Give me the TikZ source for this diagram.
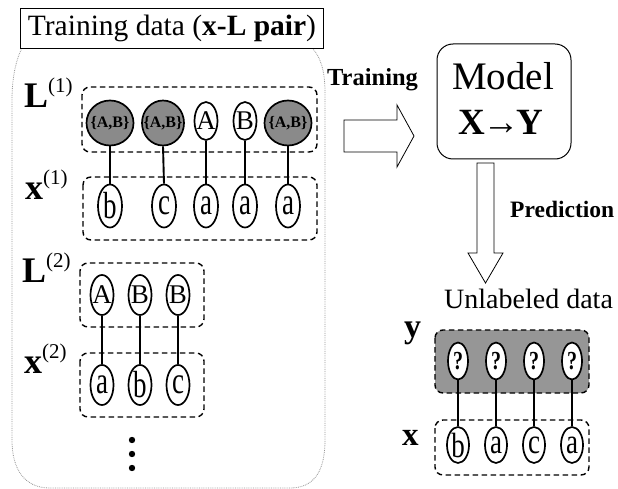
\documentclass[tikz,border=0pt]{standalone}
\usepackage{fontspec}
\usepackage{graphicx}
\setmainfont{Liberation Serif}
\usetikzlibrary{shapes.geometric}
\definecolor{cellgray}{RGB}{138,138,138}
\definecolor{boxgray}{RGB}{150,150,150}
\definecolor{framegray}{RGB}{150,150,150}
\newcommand{\zw}[1]{\makebox[0pt][c]{#1}}
\newcommand{\stretchtxt}[1]{\makebox[0pt][c]{\scalebox{1}[1.4]{#1}}}
\newcommand{\suplab}[2]{{\bfseries\fontsize{36}{36}\selectfont #1}\raisebox{15pt}{\fontsize{21}{21}\selectfont(#2)}}
\begin{document}
\begin{tikzpicture}[x=1pt,y=-1pt,
  ell/.style={ellipse,draw,line width=1.7pt,fill=white,inner sep=0pt},
  letter/.style={ell,minimum width=23pt,minimum height=40pt,font=\fontsize{27}{27}\selectfont},
  qmark/.style={ell,minimum width=20pt,minimum height=37pt,font=\bfseries\fontsize{20}{20}\selectfont},
  setnode/.style={ell,fill=cellgray,minimum height=45pt,font=\bfseries\fontsize{16}{16}\selectfont},
  dashbox/.style={draw,line width=1.4pt,rounded corners=8pt,dash pattern=on 5.5pt off 3.5pt},
  link/.style={line width=1.9pt},
  hollow/.style={draw,line width=0.8pt,fill=white},
  lab/.style={anchor=base west,inner sep=0pt}]
\useasboundingbox (0,0) rectangle (618,489);
% big frame
\draw[framegray,densely dotted,line width=0.8pt]
  (22,48) .. controls (15,62) and (12,80) .. (12,100) -- (12,440)
  .. controls (12,470) and (25,488) .. (50,488) -- (290,488)
  .. controls (315,488) and (325,470) .. (325,440) -- (325,92)
  .. controls (325,70) and (320,56) .. (312,48);
% title
\node[draw,line width=0.9pt,fill=white,minimum width=303pt,minimum height=40pt,inner sep=0pt,
  font=\fontsize{29.5}{29.5}\selectfont] (title) at (172,28) {Training data (\textbf{x-L pair})};
% dashed boxes
\draw[dashbox] (82,87) rectangle (317,152);
\draw[dashbox] (83,177) rectangle (317,240);
\draw[dashbox] (80,263) rectangle (204,327);
\draw[dashbox] (80,353) rectangle (204,417);
\draw[dashbox,fill=boxgray] (435,330) rectangle (589,393);
\draw[dashbox] (435,420) rectangle (589,475);
% labels
\node[lab] (lL1) at (24,108) {\suplab{L}{1}};
\node[lab] (lx1) at (25,200) {\suplab{x}{1}};
\node[lab] (lL2) at (22,282) {\suplab{L}{2}};
\node[lab] (lx2) at (24,373) {\suplab{x}{2}};
\node[lab,font=\bfseries\fontsize{34}{34}\selectfont] (ly) at (404,337) {y};
\node[lab,font=\bfseries\fontsize{33}{33}\selectfont] (lx) at (402,445) {x};
% row L1
\node[setnode,minimum width=47pt] (p1) at (110,123) {\zw{\{A,B\}}};
\node[setnode,minimum width=42pt] (p2) at (163,123) {\zw{\{A,B\}}};
\node[letter,minimum height=38pt] (p3) at (206,121) {\zw{A}};
\node[letter,minimum height=38pt] (p4) at (245,121) {\zw{B}};
\node[setnode,minimum width=47pt] (p5) at (288,123) {\zw{\{A,B\}}};
% row x1
\node[letter,minimum width=24pt,minimum height=43pt] (q1) at (110,206) {\stretchtxt{b}};
\node[letter,minimum width=24pt,minimum height=43pt] (q2) at (164,206) {\stretchtxt{c}};
\node[letter,minimum width=24pt,minimum height=43pt] (q3) at (206,206) {\stretchtxt{a}};
\node[letter,minimum width=24pt,minimum height=43pt] (q4) at (245,206) {\stretchtxt{a}};
\node[letter,minimum width=24pt,minimum height=43pt] (q5) at (288,206) {\stretchtxt{a}};
\foreach \i in {1,...,5} {\draw[link] (p\i.south) -- (q\i.north);}
% row L2 / x2
\node[letter] (r1) at (102,295) {\zw{A}};
\node[letter] (r2) at (140,295) {\zw{B}};
\node[letter] (r3) at (178,295) {\zw{B}};
\node[letter] (s1) at (102,385) {\stretchtxt{a}};
\node[letter] (s2) at (140,385) {\stretchtxt{b}};
\node[letter] (s3) at (178,385) {\stretchtxt{c}};
\foreach \i in {1,2,3} {\draw[link] (r\i.south) -- (s\i.north);}
% dots
\foreach \yy in {440,454,468} {\fill (132,\yy) circle (3.2pt);}
% right side
\node[anchor=base west,inner sep=0pt,font=\bfseries\fontsize{24.5}{24.5}\selectfont] (ttrain) at (327,86) {Training};
\draw[hollow] (344,120) -- (397,120) -- (397,105) -- (414,136) -- (397,167) -- (397,152) -- (344,152) -- cycle;
\node[draw,line width=1pt,rounded corners=16pt,minimum width=134pt,minimum height=115pt,inner sep=0pt] (model) at (504,101.5) {};
\node[anchor=base,inner sep=0pt,font=\fontsize{39}{39}\selectfont] (tmodel) at (503,90) {Model};
\node[anchor=base,inner sep=0pt,font=\bfseries\fontsize{37}{37}\selectfont] (txy) at (501,135) {X\kern-3pt{\mdseries→}\kern-3pt Y};
\draw[hollow] (477,163) -- (494,163) -- (494,253) -- (503,253) -- (485.5,283) -- (468,253) -- (477,253) -- cycle;
\node[anchor=base west,inner sep=0pt,font=\bfseries\fontsize{23.5}{23.5}\selectfont] (tpred) at (510,218) {Prediction};
\node[anchor=base west,inner sep=0pt,font=\fontsize{28}{28}\selectfont] (tunl) at (444,308) {Unlabeled data};
% y / x rows
\foreach \xx/\i in {458/1,496/2,534/3,572/4} {
  \node[qmark] (u\i) at (\xx,361) {\zw{\scalebox{1}[1.3]{?}}};
}
\node[letter,minimum width=22pt,minimum height=36pt] (v1) at (458,445) {\zw{\scalebox{1}[1.3]{b}}};
\node[letter,minimum width=22pt,minimum height=36pt] (v2) at (496,445) {\zw{\scalebox{1}[1.3]{a}}};
\node[letter,minimum width=22pt,minimum height=36pt] (v3) at (534,445) {\zw{\scalebox{1}[1.3]{c}}};
\node[letter,minimum width=22pt,minimum height=36pt] (v4) at (572,445) {\zw{\scalebox{1}[1.3]{a}}};
\foreach \i in {1,...,4} {\draw[link] (u\i.south) -- (v\i.north);}
\end{tikzpicture}
\end{document}
